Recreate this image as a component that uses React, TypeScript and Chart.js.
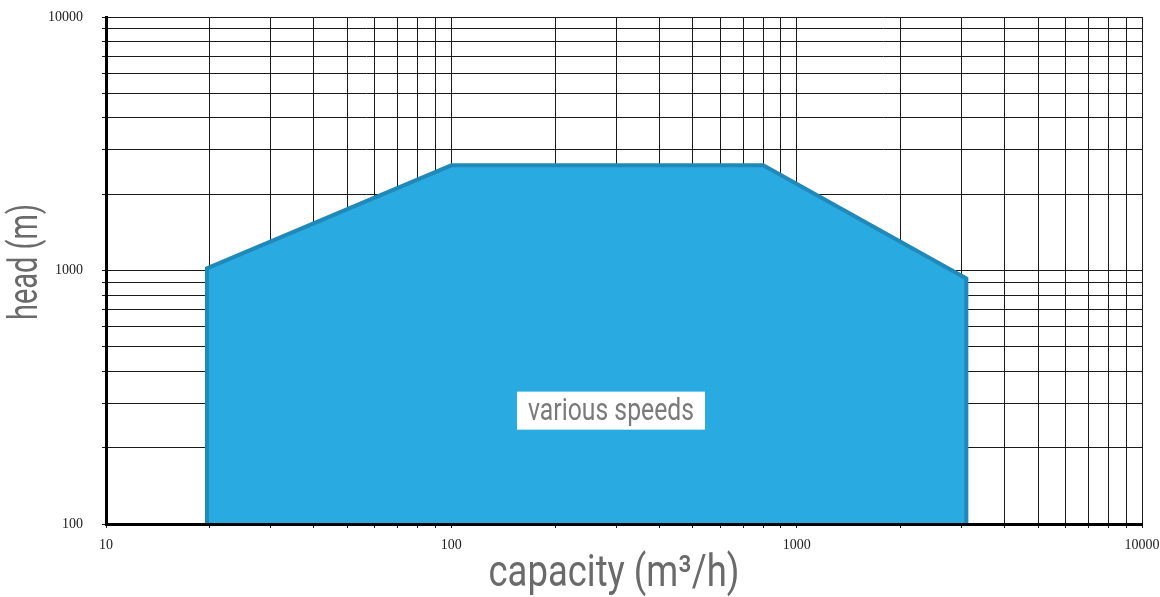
import { useEffect, useRef } from "react";
import { Chart, registerables } from "chart.js";

Chart.register(...registerables);

// grid values (log axes)
const xGridValues = [
  10, 20, 30, 40, 50, 60, 70, 80, 90,
  100, 200, 300, 400, 500, 600, 700, 800, 900,
  1000, 2000, 3000, 4000, 5000, 6000, 7000, 8000, 9000,
  10000,
];
const yGridValues = [
  100, 200, 300, 400, 500, 600, 700, 800, 900,
  1000, 2000, 3000, 4000, 5000, 6000, 7000, 8000, 9000,
  10000,
];
const xLabelValues = [10, 100, 1000, 10000];
const yLabelValues = [100, 1000, 10000];

// operating envelope (capacity m3/h, head m)
const envelopeCapacity = [19.6, 19.6, 100, 800, 3100, 3100];
const envelopeHead = [100, 1020, 2600, 2600, 930, 100];

const regionLabel = "various speeds";
const regionLabelCapacity = 290;
const regionLabelHead = 280;

const xTitle = "capacity (m³/h)";
const yTitle = "head (m)";

function drawCondensed(
  ctx: CanvasRenderingContext2D,
  text: string,
  cx: number,
  cy: number,
  fontPx: number,
  targetWidth: number,
  color: string,
  rotate = 0
) {
  ctx.save();
  ctx.font = `${fontPx}px Roboto, "DejaVu Sans", sans-serif`;
  const w = ctx.measureText(text).width;
  const sx = targetWidth / w;
  ctx.translate(cx, cy);
  if (rotate) ctx.rotate(rotate);
  ctx.scale(sx, 1);
  ctx.fillStyle = color;
  ctx.textAlign = "center";
  ctx.textBaseline = "middle";
  ctx.fillText(text, 0, 0);
  ctx.restore();
}

const textPlugin = {
  id: "textPlugin",
  afterDraw(chart: any) {
    const ctx = chart.ctx as CanvasRenderingContext2D;
    const xs = chart.scales.x;
    const ys = chart.scales.y;
    const area = chart.chartArea;
    // region label with white box
    const lx = xs.getPixelForValue(regionLabelCapacity);
    const ly = ys.getPixelForValue(regionLabelHead);
    ctx.save();
    ctx.fillStyle = "#ffffff";
    ctx.fillRect(lx - 94, ly - 19, 188, 38);
    ctx.restore();
    drawCondensed(ctx, regionLabel, lx, ly + 1, 32, 166, "#7a7a7a");
    // axis titles
    const cxTitle = (area.left + area.right) / 2 - 10;
    drawCondensed(ctx, xTitle, cxTitle, 575, 44, 251, "#6a6a6a");
    drawCondensed(ctx, yTitle, 27, 262, 40, 116, "#6a6a6a", -Math.PI / 2);
  },
};

export default function App() {
  const ref = useRef<HTMLCanvasElement | null>(null);

  useEffect(() => {
    if (!ref.current) return;
    const data = envelopeCapacity.map((c, i) => ({ x: c, y: envelopeHead[i] }));
    const chart = new Chart(ref.current, {
      type: "line",
      data: {
        datasets: [
          {
            data,
            borderColor: "#2189b9",
            backgroundColor: "#29abe2",
            borderWidth: 4,
            pointRadius: 0,
            fill: "start",
            tension: 0,
          },
        ],
      },
      options: {
        responsive: false,
        animation: false,
        layout: { padding: { top: 17, right: 18, left: 0, bottom: 0 } },
        plugins: { legend: { display: false }, tooltip: { enabled: false } },
        scales: {
          x: {
            type: "logarithmic",
            min: 10,
            max: 10000,
            afterBuildTicks: (scale: any) => {
              scale.ticks = xGridValues.map((v) => ({ value: v }));
            },
            afterFit: (scale: any) => {
              scale.height = 73;
              scale.paddingLeft = 0;
              scale.paddingRight = 0;
            },
            grid: { color: "#1a1a1a", lineWidth: 1, tickLength: 4, tickColor: "#1a1a1a", z: 0 },
            border: { display: true, color: "#000000", width: 3, z: 1 },
            ticks: {
              autoSkip: false,
              maxRotation: 0,
              padding: 9,
              color: "#222222",
              font: { family: '"Liberation Serif", "DejaVu Serif", serif', size: 14 },
              callback: (v: any) => (xLabelValues.includes(Number(v)) ? String(v) : ""),
            },
          },
          y: {
            type: "logarithmic",
            min: 100,
            max: 10000,
            afterBuildTicks: (scale: any) => {
              scale.ticks = yGridValues.map((v) => ({ value: v }));
            },
            afterFit: (scale: any) => {
              scale.width = 106;
              scale.paddingTop = 0;
              scale.paddingBottom = 0;
            },
            grid: { color: "#1a1a1a", lineWidth: 1, tickLength: 4, tickColor: "#1a1a1a", z: 0 },
            border: { display: true, color: "#000000", width: 3, z: 1 },
            ticks: {
              autoSkip: false,
              padding: 19,
              color: "#222222",
              font: { family: '"Liberation Serif", "DejaVu Serif", serif', size: 14 },
              callback: (v: any) => (yLabelValues.includes(Number(v)) ? String(v) : ""),
            },
          },
        },
      },
      plugins: [textPlugin],
    } as any);
    return () => chart.destroy();
  }, []);

  return (
    <div style={{ position: "absolute", left: 0, top: 0, width: 1160, height: 597, background: "#fff" }}>
      <canvas ref={ref} width={1160} height={597} style={{ display: "block" }} />
    </div>
  );
}
